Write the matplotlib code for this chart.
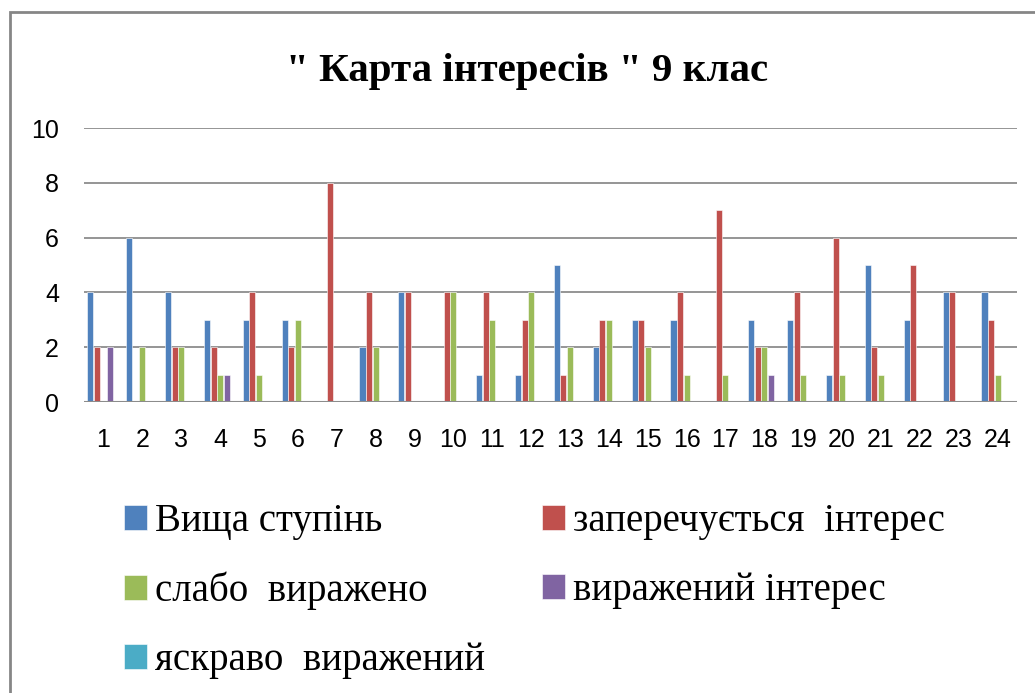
import numpy as np
import matplotlib.pyplot as plt
from matplotlib.patches import Rectangle

# categories (pupils / questions) 1..24
categories = [str(i) for i in range(1, 25)]

# series values
vyshcha = [4, 6, 4, 3, 3, 3, 0, 2, 4, 0, 1, 1, 5, 2, 3, 3, 0, 3, 3, 1, 5, 3, 4, 4]
zaperechuyetsya = [2, 0, 2, 2, 4, 2, 8, 4, 4, 4, 4, 3, 1, 3, 3, 4, 7, 2, 4, 6, 2, 5, 4, 3]
slabo = [0, 2, 2, 1, 1, 3, 0, 2, 0, 4, 3, 4, 2, 3, 2, 1, 1, 2, 1, 1, 1, 0, 0, 1]
vyrazhenyi = [2, 0, 0, 1, 0, 0, 0, 0, 0, 0, 0, 0, 0, 0, 0, 0, 0, 1, 0, 0, 0, 0, 0, 0]
yaskravo = [0] * 24

series = [vyshcha, zaperechuyetsya, slabo, vyrazhenyi, yaskravo]
labels = ['Вища ступінь', 'заперечується  інтерес', 'слабо  виражено',
          'виражений інтерес', 'яскраво  виражений']
colors = ['#4F81BD', '#C0504D', '#9BBB59', '#8064A2', '#4BACC6']

fig = plt.figure(figsize=(10.35, 6.93), dpi=100)
ax = fig.add_axes([84 / 1035, (693 - 402) / 693, 933 / 1035, 274 / 693])

x = np.arange(len(categories))
w = 0.168
handles = []
for i, (vals, lab, col) in enumerate(zip(series, labels, colors)):
    b = ax.bar(x + (i - 2) * w, vals, width=w * 0.92, color=col,
               edgecolor='white', linewidth=0.4, label=lab, zorder=3)
    handles.append(b)

ax.set_xlim(-0.5, len(categories) - 0.5)
ax.set_ylim(0, 10)
ax.set_yticks(range(0, 11, 2))
ax.set_xticks(x)
ax.set_xticklabels(categories)
ax.grid(axis='y', color='#8c8c8c', linewidth=1.3, zorder=0)
for s in ax.spines.values():
    s.set_visible(False)
ax.axhline(0, color='#8c8c8c', linewidth=1.5, zorder=4)
ax.tick_params(length=0, labelsize=18, colors='black')
ax.tick_params(axis='x', pad=19)
ax.tick_params(axis='y', pad=18)
for t in ax.get_xticklabels() + ax.get_yticklabels():
    t.set_fontfamily('Liberation Sans')

fig.text(527 / 1035, (693 - 71) / 693, '" Карта інтересів " 9 клас',
         ha='center', va='center', fontsize=29.5, fontweight='bold',
         family='Liberation Serif')

# legend filled row-wise like the original
order = [0, 2, 4, 1, 3]
leg = fig.legend([handles[i] for i in order], [labels[i] for i in order],
                 loc='upper left', bbox_to_anchor=(124 / 1035, (693 - 503) / 693),
                 ncol=2, frameon=False, borderpad=0, borderaxespad=0,
                 handlelength=0.6, handleheight=0.6, handletextpad=0.2,
                 columnspacing=1.45, labelspacing=0.82,
                 prop={'family': 'Liberation Serif', 'size': 28})

# outer chart border
fig.patches.append(Rectangle((10 / 1035, -0.1), 1.2, (693 - 12) / 693 + 0.1,
                             transform=fig.transFigure, fill=False,
                             edgecolor='#868686', linewidth=2))

plt.savefig('out.png', dpi=100)
